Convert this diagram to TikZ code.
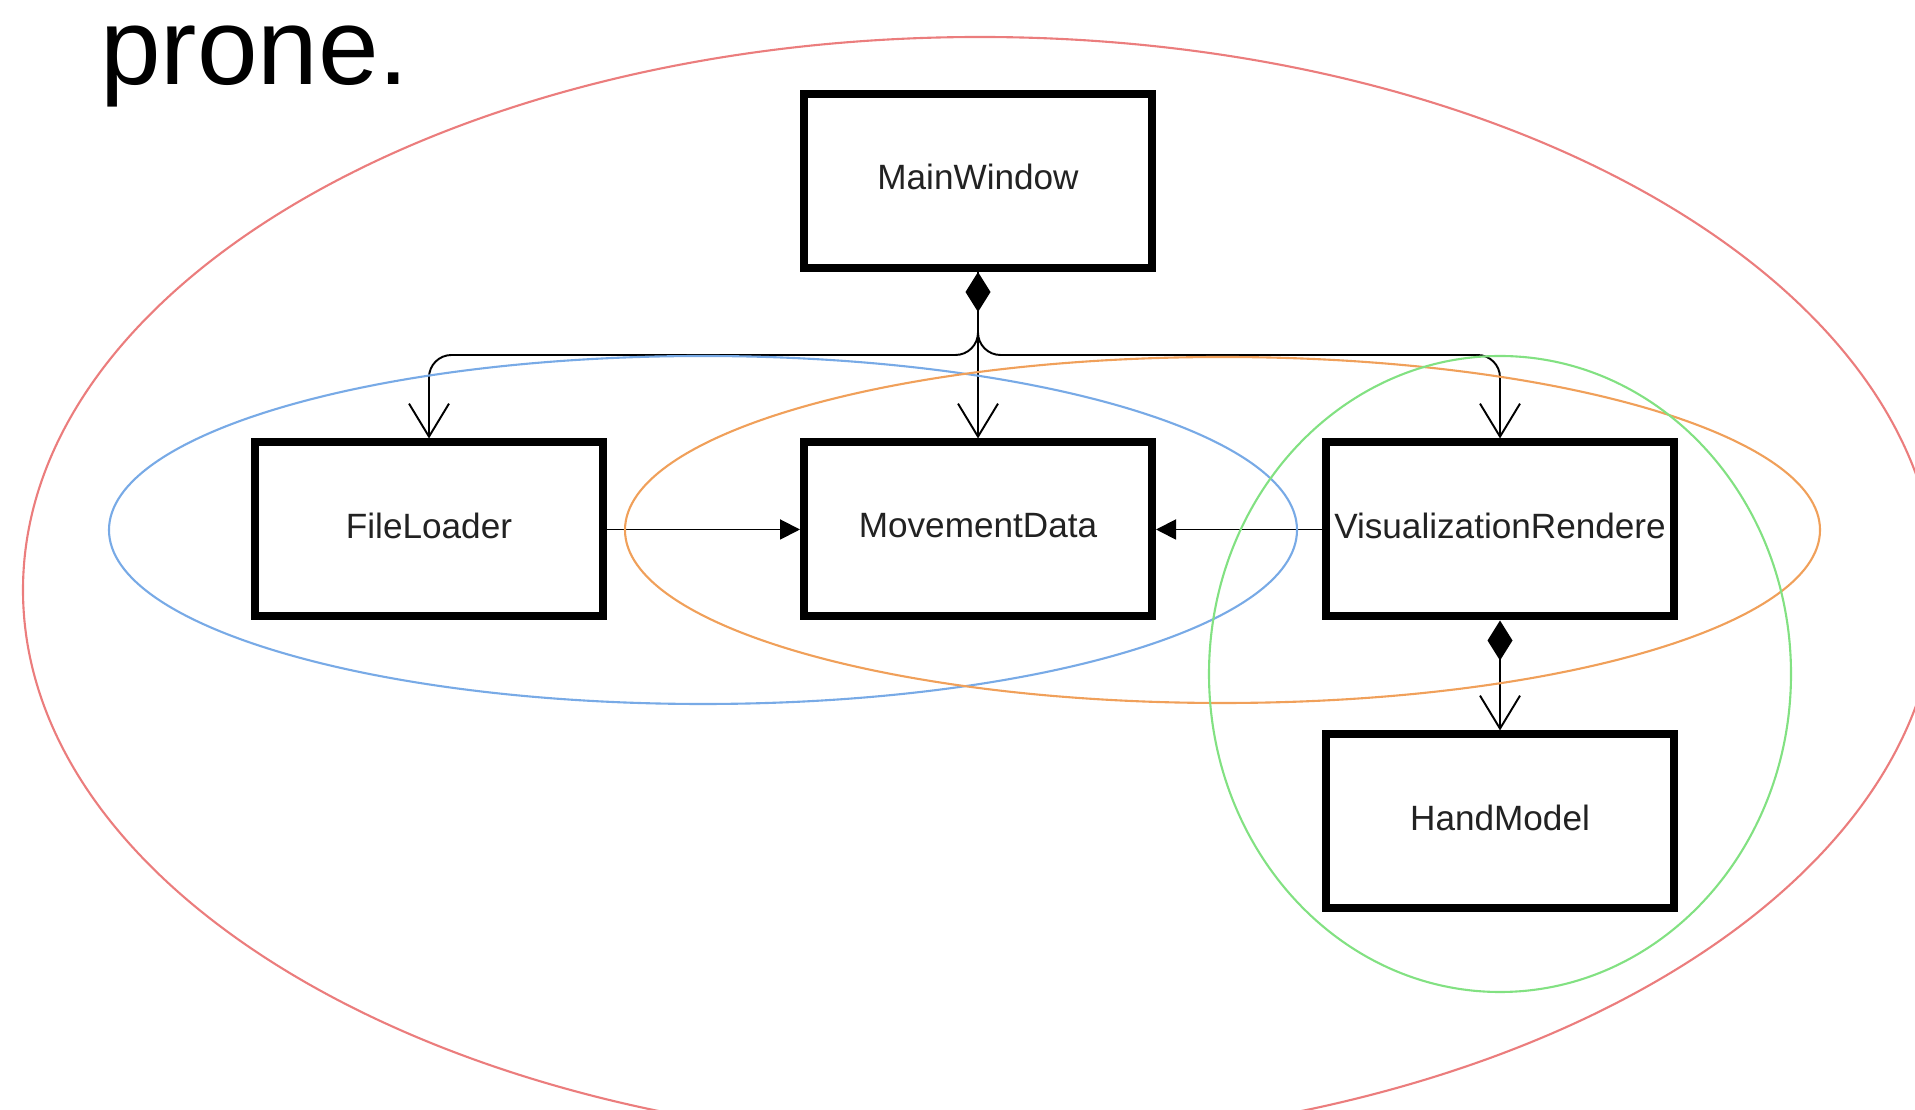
\documentclass[tikz,border=0pt]{standalone}
\usepackage{fontspec}
\setmainfont{Liberation Sans}
\usetikzlibrary{arrows.meta, positioning}
\definecolor{ringred}{RGB}{235, 125, 125}
\definecolor{ringblue}{RGB}{120, 170, 230}
\definecolor{ringorange}{RGB}{240, 160, 90}
\definecolor{ringgreen}{RGB}{130, 225, 130}
\definecolor{labelgray}{RGB}{34, 34, 34}

\begin{document}
\begin{tikzpicture}[
    cls/.style={draw=black, line width=0.16cm, fill=white, minimum width=6.96cm,
                minimum height=3.48cm, inner sep=0pt, text depth=0.15cm, text=labelgray,
                font=\fontsize{20pt}{24pt}\selectfont},
    link/.style={draw=black, line width=1.1pt},
    owns/.style={link, {Diamond[length=0.8cm, width=0.5cm]}-{Straight Barb[length=0.66cm, width=0.8cm]}},
    uses/.style={link, rounded corners=0.45cm, -{Straight Barb[length=0.66cm, width=0.8cm]}},
    feeds/.style={link, -{Triangle[length=0.4cm, width=0.4cm]}},
    ring/.style={line width=1.2pt}
]
    \clip (0,0) rectangle (38.3,22.2);

    \node[anchor=base west, inner sep=0pt, text height=1.3cm,
          font=\fontsize{62pt}{68pt}\selectfont] (prone) at (2.0,20.5) {prone.};

    \node[cls] (md) at (19.56,11.61) {MovementData};
    \node[cls, left=3.86cm of md] (fl) {FileLoader};
    \node[cls, right=3.32cm of md] (vr) {VisualizationRendere};
    \node[cls, above=3.33cm of md] (mw) {MainWindow};
    \node[cls, below=2.2cm of vr] (hm) {HandModel};

    \coordinate (split) at ([yshift=-1.66cm]mw.south);

    \draw[uses] (mw.south) -- (split) -| (fl.north);
    \draw[uses] (mw.south) -- (split) -| (vr.north);
    \draw[owns] (mw.south) -- (md.north);
    \draw[feeds] (fl.east) -- (md.west);
    \draw[feeds] (vr.west) -- (md.east);
    \draw[owns] (vr.south) -- (hm.north);

    % groupings
    \draw[ring, ringred] (19.6,10.4) ellipse [x radius=19.14cm, y radius=11.06cm];
    \draw[ring, ringblue] (14.06,11.6) ellipse [x radius=11.88cm, y radius=3.48cm];
    \draw[ring, ringorange] (24.45,11.6) ellipse [x radius=11.95cm, y radius=3.46cm];
    \draw[ring, ringgreen] (30.0,8.72) ellipse [x radius=5.82cm, y radius=6.36cm];
\end{tikzpicture}
\end{document}
